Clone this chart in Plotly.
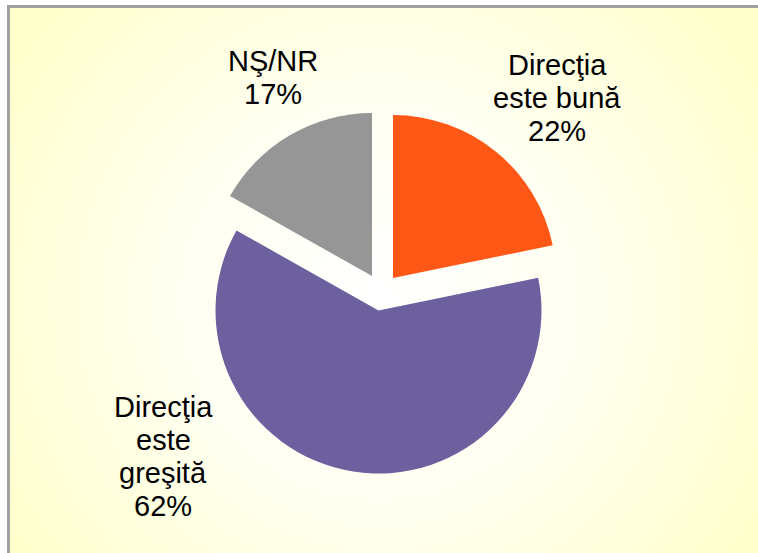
import base64
import plotly.graph_objects as go

# ---- data ----
labels = ["Direcţia este bună", "Direcţia este greşită", "NŞ/NR"]
label_lines = [["Direcţia", "este bună"], ["Direcţia", "este", "greşită"], ["NŞ/NR"]]
values = [22, 62, 17]
colors = ["#FF5816", "#6C609E", "#969696"]

# ---- layout geometry (pixels) ----
W, H = 758, 553
R = 163
slice_centers = [(393, 278), (378.5, 310.5), (372, 276)]
label_x = [557, 163, 272.5]
label_first_baseline = [75, 417, 71]
line_gap = 33
FS = 29


def px_x(x):
    return x / W


def px_y(y):
    return 1 - y / H


fig = go.Figure()
for i, (cx, cy) in enumerate(slice_centers):
    mcols = [colors[j] if j == i else "rgba(0,0,0,0)" for j in range(len(values))]
    fig.add_trace(go.Pie(
        values=values,
        labels=labels,
        sort=False,
        direction="clockwise",
        rotation=0,
        marker=dict(colors=mcols, line=dict(width=0)),
        textinfo="none",
        hoverinfo="label+value",
        showlegend=False,
        domain=dict(x=[px_x(cx - R), px_x(cx + R)], y=[px_y(cy + R), px_y(cy - R)]),
    ))

annotations = []
for i in range(len(values)):
    lines = label_lines[i] + [f"{values[i]}%"]
    for k, t in enumerate(lines):
        base = label_first_baseline[i] + k * line_gap
        annotations.append(dict(
            text=t, x=px_x(label_x[i]), y=px_y(base - 0.35 * FS),
            xref="paper", yref="paper", xanchor="center", yanchor="middle",
            showarrow=False,
            font=dict(family="Liberation Sans, Arial, sans-serif", size=FS, color="#000000"),
        ))

# background gradient (pale yellow, lighter in the middle)
gx0, gy0 = 10, 8
gw, gh = W + 30 - gx0, H + 30 - gy0
svg = f'''<svg xmlns="http://www.w3.org/2000/svg" width="{gw}" height="{gh}" viewBox="0 0 {gw} {gh}">
<defs><radialGradient id="g" gradientUnits="userSpaceOnUse" cx="{380-gx0}" cy="{300-gy0}" r="440">
<stop offset="0" stop-color="#FFFFFF"/><stop offset="0.45" stop-color="#FFFFF2"/><stop offset="1" stop-color="#FFFFCC"/>
</radialGradient></defs>
<rect x="0" y="0" width="{gw}" height="{gh}" fill="url(#g)"/></svg>'''
src = "data:image/svg+xml;base64," + base64.b64encode(svg.encode()).decode()

border = dict(color="#A0A0A0", width=3)
fig.update_layout(
    width=W, height=H,
    margin=dict(l=0, r=0, t=0, b=0),
    paper_bgcolor="#FFFFFF",
    plot_bgcolor="#FFFFFF",
    annotations=annotations,
    images=[dict(source=src, xref="paper", yref="paper",
                 x=px_x(gx0), y=px_y(gy0), sizex=gw / W, sizey=gh / H,
                 xanchor="left", yanchor="top", sizing="stretch", layer="below")],
    shapes=[
        dict(type="line", xref="paper", yref="paper",
             x0=px_x(7), y0=px_y(6.5), x1=px_x(W + 20), y1=px_y(6.5), line=border, layer="above"),
        dict(type="line", xref="paper", yref="paper",
             x0=px_x(8.5), y0=px_y(5), x1=px_x(8.5), y1=px_y(H + 20), line=border, layer="above"),
    ],
)

fig.write_html("out.html", config={"displayModeBar": False, "staticPlot": True},
               post_script="document.body.style.margin='0';document.body.style.overflow='hidden';")
